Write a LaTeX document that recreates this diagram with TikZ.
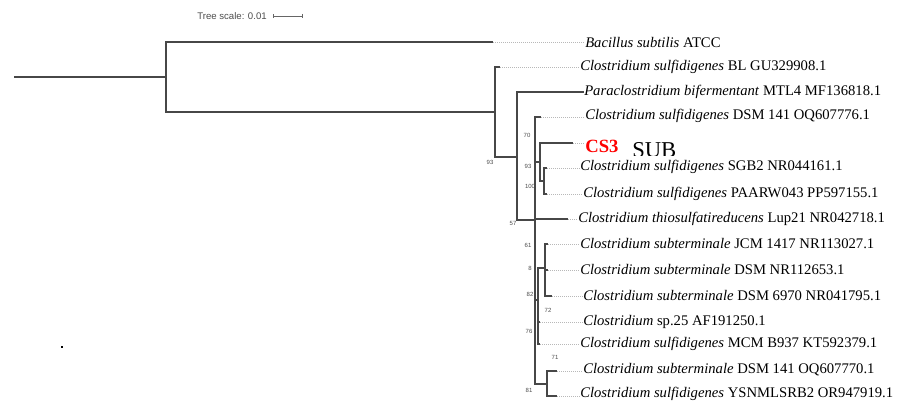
\documentclass[tikz,border=0pt]{standalone}
\usepackage{fontspec}
\setmainfont{Liberation Serif}
\setsansfont{Liberation Sans}
\usetikzlibrary{arrows.meta}
\tikzset{br/.style={draw=black!72,line width=.9pt},
brt/.style={br,line width=1.6pt},
lk/.style={draw=black!28,densely dotted,line width=.5pt},
lf/.style={anchor=west,inner sep=0pt,font=\fontsize{11}{13}\selectfont},
bs/.style={inner sep=0pt,text=black!70,font=\sffamily\fontsize{4.5}{5}\selectfont}}
\newcommand{\tax}[1]{\textit{#1}}

\begin{document}
\begin{tikzpicture}[x=.75pt,y=-.75pt]
\useasboundingbox(0,0)rectangle(902,403);
% scale
\node[bs,font=\sffamily\fontsize{7.2}{8}\selectfont](ts)at(232,16){Tree scale: 0.01};
\coordinate(s0)at(273,16);\coordinate(s1)at(303,16);
\draw[black!60,line width=.5pt,{Bar[width=3pt]}-{Bar[width=3pt]}](s0)--(s1);
% leaves
\node[lf](bac)at(585,42){\tax{Bacillus subtilis} ATCC};
\node[lf](bl)at(580,67){\tax{Clostridium sulfidigenes} BL GU329908.1};
\node[lf](para)at(584,92){\tax{Paraclostridium bifermentant} MTL4 MF136818.1};
\node[lf](dsma)at(585,116){\tax{Clostridium sulfidigenes} DSM 141 OQ607776.1};
\node[anchor=base west,inner sep=0pt,text=red,font=\bfseries\fontsize{14}{16}\selectfont](cs3)at(585,152){CS3};
\begin{scope}\clip(625,130)rectangle(700,155);
\node[anchor=base west,inner sep=0pt,font=\fontsize{17}{19}\selectfont](sub)at(632,157){SUB};
\end{scope}
\node[lf](sgb)at(580,167){\tax{Clostridium sulfidigenes} SGB2 NR044161.1};
\node[lf](paa)at(583,194){\tax{Clostridium sulfidigenes} PAARW043 PP597155.1};
\node[lf](lup)at(578,219){\tax{Clostridium thiosulfatireducens} Lup21 NR042718.1};
\node[lf](jcm)at(580,244){\tax{Clostridium subterminale} JCM 1417 NR113027.1};
\node[lf](dsmb)at(580,270){\tax{Clostridium subterminale} DSM NR112653.1};
\node[lf](dsmc)at(583,296){\tax{Clostridium subterminale} DSM 6970 NR041795.1};
\node[lf](spx)at(583,322){\tax{Clostridium} sp.25 AF191250.1};
\node[lf](mcm)at(580,344){\tax{Clostridium sulfidigenes} MCM B937 KT592379.1};
\node[lf](dsmd)at(583,370){\tax{Clostridium subterminale} DSM 141 OQ607770.1};
\node[lf](ysn)at(580,394){\tax{Clostridium sulfidigenes} YSNMLSRB2 OR947919.1};
% internal nodes
\coordinate(r)at(14,77);\coordinate(nA)at(166,77);\coordinate(nB)at(495,112);
\coordinate(nC)at(517,157);\coordinate(nD)at(535,220);\coordinate(nE)at(540,162);
\coordinate(nH)at(544,181);\coordinate(nG)at(538,300);\coordinate(nJ)at(545,268);
\coordinate(nK)at(547,384);
% tips
\coordinate(tbac)at(493,42);\coordinate(tbl)at(500,67);\coordinate(tdsma)at(541,117);
\coordinate(tcs3)at(573,143);\coordinate(tsgb)at(547,168);\coordinate(tpaa)at(547,194);
\coordinate(tlup)at(568,219);\coordinate(tjcm)at(548,244);\coordinate(tdsmb)at(548,270);
\coordinate(tdsmc)at(552,296);\coordinate(tspx)at(540,322);\coordinate(tmcm)at(540,344);
\coordinate(tdsmd)at(557,371);\coordinate(tysn)at(557,396);
% links
\foreach \t/\l in {tbac/bac,tbl/bl,tdsma/dsma,tcs3/cs3,tsgb/sgb,tpaa/paa,tlup/lup,tjcm/jcm,tdsmb/dsmb,tdsmc/dsmc,tspx/spx,tmcm/mcm,tdsmd/dsmd,tysn/ysn}
  \draw[lk](\t)--(\t-|\l.west);
% branches
\draw[br](r)--(nA);\draw[br](nA)|-(tbac);\draw[br](nA)|-(nB);
\draw[br](nB)|-(tbl);\draw[br](nB)|-(nC);
\draw[br](nC)|-(para.west);\draw[br](nC)|-(nD);
\draw[br](nD)|-(tdsma);\draw[br](nD)|-(nE);\draw[br](nD)|-(tlup);\draw[br](nD)|-(nG);\draw[br](nD)|-(nK);
\draw[br](nE)|-(tcs3);\draw[br](nE)|-(nH);
\draw[brt](nH)|-(tsgb);\draw[brt](nH)|-(tpaa);
\draw[brt](nG)|-(nJ);\draw[brt](nG)|-(tspx);\draw[brt](nG)|-(tmcm);
\draw[br](nJ)|-(tjcm);\draw[br](nJ)|-(tdsmb);\draw[br](nJ)|-(tdsmc);
\draw[br](nK)|-(tdsmd);\draw[br](nK)|-(tysn);
% support values
\node[bs](v1)at(490,162){93};\node[bs](v2)at(527,135){70};\node[bs](v3)at(528,166){93};
\node[bs](v4)at(530,186){100};\node[bs](v5)at(513,223){57};\node[bs](v6)at(528,245){61};
\node[bs](v7)at(530,268){8};\node[bs](v8)at(530,294){82};\node[bs](v9)at(548,310){72};
\node[bs](v10)at(529,331){76};\node[bs](v11)at(555,357){71};\node[bs](v12)at(529,390){81};
% stray mark
\fill(61,346)rectangle(63,348);
\end{tikzpicture}
\end{document}
